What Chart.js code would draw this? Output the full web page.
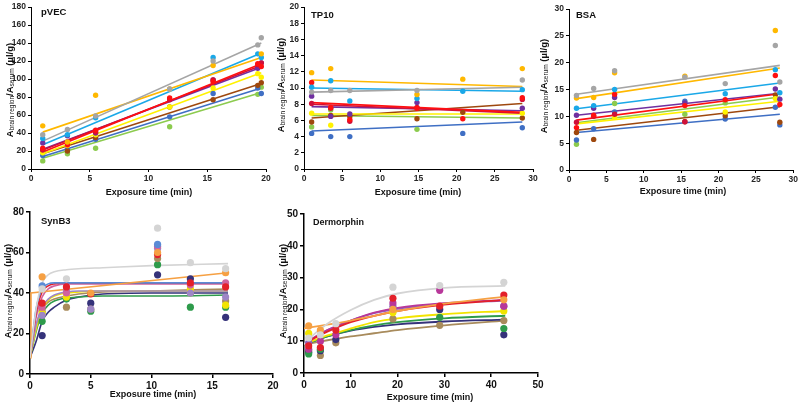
<!DOCTYPE html>
<html><head><meta charset="utf-8">
<script src="https://cdn.jsdelivr.net/npm/chart.js@4.4.1/dist/chart.umd.min.js"></script>
<style>
html,body{margin:0;padding:0;background:#fff;}
body{width:800px;height:404px;position:relative;overflow:hidden;}
canvas{position:absolute;left:0;top:0;}
</style></head><body>
<canvas id="c1" width="800" height="404"></canvas>
<canvas id="c2" width="800" height="404"></canvas>
<canvas id="c3" width="800" height="404"></canvas>
<canvas id="c4" width="800" height="404"></canvas>
<canvas id="c5" width="800" height="404"></canvas>
<script>
// ---------- DATA ----------
// Top row (linear fits), colours
const topNames  = ['grey','gold','lightblue','red','crimson','purple','yellow','brown','blue','green'];
const topColors = ['#A5A5A5','#FFB800','#1AA8E8','#FF1010','#D0103A','#7030A0','#FFF200','#9E480E','#3F6FC4','#8CCB4E'];

// pVEC
const pvecX = [1, 3.1, 5.5, 11.8, 15.5, 19.3, 19.6];
const pvecY = [
  [38, 44, 59, 89, 120, 138, 146],
  [48, 30, 82, 89, 115, null, 128],
  [34, 38, 57, null, 124, 128, 124],
  [23, 27, 43, 79, 97, 117, 114],
  [21, 30, 41, 77, 99, 116, 118],
  [29, 37, 40, null, 99, 112, 118],
  [18, 26, 38, 69, 90, 106, 102],
  [20, 20, 35, 69, 77, 93, 96],
  [15, 22, 33, 58, 84, 90, 84],
  [9, 17, 23, 47, null, 83, 91]
];
const pvecFitX = [1, 19.6];
const pvecFitStart = [31, 41, 27, 19, 21, 22, 17, 17, 14, 12];
const pvecFitEnd   = [140, 124, 129, 117, 115, 113, 107, 95, 90, 85];

// TP10
const tp10X = [1, 3.5, 6, 14.8, 20.8, 28.6];
const tp10Y = [
  [9.5, 9.7, 9.7, 9.7, null, 11.0],
  [11.9, 12.4, null, 9.2, 11.1, 12.4],
  [10.1, 10.9, 8.4, 8.7, 9.6, 9.8],
  [10.7, 7.6, 6.1, 7.5, 6.2, 8.8],
  [8.1, 7.5, 5.9, 7.6, null, 8.6],
  [9.0, 6.5, 6.8, 8.2, null, 7.5],
  [6.9, 5.4, null, null, null, 6.9],
  [5.8, 6.6, 6.5, 6.2, 7.0, 6.3],
  [4.4, 4.0, 4.0, null, 4.4, 5.1],
  [5.2, 7.3, null, 4.9, null, null]
];
const tp10FitX = [1, 28.6];
const tp10FitStart = [9.5, 11.0, 10.0, 8.2, 8.0, 7.7, 6.8, 6.3, 4.7, 6.6];
const tp10FitEnd   = [10.1, 10.2, 9.6, 7.0, 6.9, 7.2, 6.8, 8.1, 5.8, 6.3];

// BSA
const bsaX = [1, 3.3, 6.1, 15.5, 20.9, 27.6, 28.2];
const bsaY = [
  [13.9, 15.2, 18.5, 17.3, 16.1, 23.2, 16.4],
  [13.4, 13.5, 18.1, 17.5, null, 26.0, null],
  [11.5, 12.0, 15.0, null, 14.2, 18.7, 14.4],
  [7.9, 10.2, 14.1, 12.0, 13.1, 17.6, 12.2],
  [8.9, 10.0, 10.4, 9.0, null, null, null],
  [10.2, 11.5, 13.5, 12.5, null, 15.1, 13.2],
  [null, null, 9.8, null, 10.8, 13.3, null],
  [7.0, 5.7, null, 9.0, 10.1, 14.0, 8.9],
  [5.6, 7.7, 10.8, 12.8, 9.5, 11.7, 8.4],
  [4.8, null, 12.4, 10.4, 12.5, null, null]
];
const bsaFitX = [1, 28.2];
const bsaFitStart = [14.1, 13.3, 11.4, 9.3, null, 10.2, 8.6, 7.4, 7.0, 8.8];
const bsaFitEnd   = [19.5, 19.0, 16.2, 14.2, null, 14.3, 12.8, 11.8, 10.4, 13.6];

// Bottom row (non-linear fits), colours
const synNames  = ['lightgrey','orange','blue','red','pink','violet','yellow','brown','green','navy'];
const synColors = ['#D4D4D4','#F6A043','#5B8BD6','#E3202A','#D0629E','#9E86C6','#F2E400','#A88B5C','#2E9B4B','#35327A'];

// SynB3
const synX = [1, 3, 5, 10.5, 13.2, 16.1];
const synY = [
  [42, 47, null, 72, 55, 52],
  [48, null, 40, 60, null, 50],
  [43.5, null, null, 64, null, null],
  [35, 43, 39.5, 59, 45, 43],
  [33, 40, null, 63, 44, 45],
  [29, 41, 32, 62, 40, 38],
  [30, 38, null, null, 42, 34],
  [31, 33, 32, 57, 40, 36],
  [26, 37, 31, 54, 33, 33],
  [19, null, 35, 49, 47, 28]
];
const synCurveX = [0, 0.5, 1, 1.5, 2, 3, 4, 6, 10, 16.3];
const synCurves = [
  [8, 32, 45, 49, 50.5, 51.5, 52, 52.5, 53.5, 54.5],
  null,
  [8, 32, 42, 44.5, 45, 45, 45, 45, 45, 45],
  [8, 30, 40.5, 43.5, 44.5, 45, 45, 45, 45, 45],
  [8, 28, 38, 42, 43.5, 44.5, 44.5, 44.5, 44.5, 44.5],
  [8, 24, 33, 37, 39, 40.5, 41, 41, 41, 41],
  [8, 22, 32, 36.5, 38.5, 40, 40.5, 41, 41, 41],
  [8, 24, 32, 35.5, 37, 38.5, 39.5, 40.5, 41, 42],
  [8, 21, 30, 34, 36, 37.5, 38, 38.5, 38.5, 39],
  [8, 16, 26, 30.5, 33, 36.5, 38, 39.5, 40, 40]
];
const synOrangeX = [0.02, 0.08, 16.3];
const synOrangeY = [8, 40, 50];

// Dermorphin
const derNames  = ['lightgrey','orange','red','magenta','violet','yellow','green','navy','brown'];
const derColors = ['#D4D4D4','#F6A043','#E3202A','#B8379A','#8C62BE','#F2E400','#2E9B4B','#35327A','#A88B5C'];
const derX = [1, 3.5, 6.8, 19, 29, 42.7];
const derY = [
  [11, 12, 15.5, 27, 27.5, 28.5],
  [14.8, 13.5, null, 20, null, 23],
  [8.5, 8, 13.5, 23.5, 21, 24.5],
  [7.5, 10, 12, 22, 26, 21],
  [9.5, null, null, 21, null, 21],
  [12.5, null, null, 19, null, 19.5],
  [6, 7.5, null, null, 17.5, 14],
  [6.5, 7, 10.5, null, 20, 12],
  [7, 5.5, 9.5, 17, 15, 16.5]
];
const derCurveX = [0, 2, 5, 10, 15, 20, 30, 43];
const derCurves = [
  [9, 12, 15.5, 19.8, 23, 25, 26.8, 27.4],
  [14, 14.5, 15.2, 16.5, 18, 19.5, 21.8, 24],
  [9, 10.8, 13, 16, 18, 19.5, 21.5, 23],
  [9, 11, 13.5, 16.5, 19, 20.5, 22, 23],
  [9, 11, 13.5, 16.5, 18.8, 20.2, 21.8, 22.8],
  [9, 10.2, 11.8, 14, 16, 17.2, 18.5, 19.5],
  [9, 10, 11.5, 13.5, 15, 16, 17.2, 18],
  [9, 10, 11.5, 13.3, 14.5, 15.3, 16.2, 16.8],
  [9, 9.5, 10.3, 11.5, 12.5, 13.5, 15, 16.5]
];

// ---------- DRAWING ----------
const W = 800, H = 404, YW = 28, XH = 20;
const FONT = '"Liberation Sans", Arial, Helvetica, sans-serif';

function pts(xs, ys){
  const out = [];
  xs.forEach((x,i)=>{ if (ys[i] !== null && ys[i] !== undefined) out.push({x:x, y:ys[i]}); });
  return out;
}

function decoPlugin(d){
  return { id:'deco', afterDraw(chart){
    const ctx = chart.ctx;
    ctx.save();
    ctx.fillStyle = '#111';
    ctx.textBaseline = 'middle';
    ctx.textAlign = 'left';
    ctx.font = 'bold ' + d.tf + 'px ' + FONT;
    ctx.fillText(d.title, d.tx, d.ty);
    ctx.textAlign = 'center';
    ctx.font = 'bold ' + d.xf + 'px ' + FONT;
    ctx.fillText('Exposure time (min)', d.xx, d.xy);
    // y title with subscripts
    ctx.translate(d.yx, d.yy);
    ctx.rotate(-Math.PI/2);
    const main = 'bold ' + d.yf + 'px ' + FONT;
    const sub = (d.yf*0.68).toFixed(1) + 'px ' + FONT;
    const parts = [['A',main,0],['brain region',sub,2],['/A',main,0],['serum',sub,2],[' (\u00b5l/g)',main,0]];
    let total = 0;
    parts.forEach(p=>{ ctx.font = p[1]; total += ctx.measureText(p[0]).width; });
    let x = -total/2;
    ctx.textAlign = 'left';
    parts.forEach(p=>{ ctx.font = p[1]; ctx.fillText(p[0], x, p[2]); x += ctx.measureText(p[0]).width; });
    ctx.restore();
  }};
}

function makePanel(id, g, xr, yr, datasets, deco, st){
  new Chart(document.getElementById(id), {
    type:'line',
    data:{datasets:datasets},
    options:{
      responsive:false, animation:false, devicePixelRatio:1,
      layout:{autoPadding:false, padding:{left:g.l-YW, right:W-g.r, top:g.t, bottom:H-g.b-XH}},
      plugins:{legend:{display:false}, tooltip:{enabled:false}},
      elements:{line:{tension:0}},
      scales:{
        x:{type:'linear', min:xr[0], max:xr[1],
           afterFit:s=>{s.height=XH;},
           afterBuildTicks:s=>{ s.ticks = xr[3].map(v=>({value:v})); },
           ticks:{font:{family:FONT, size:st.fs, weight:'bold'}, color:st.tc, padding:st.tp, maxRotation:0, autoSkip:false},
           grid:{drawOnChartArea:false, tickLength:st.tl, color:'#000', lineWidth:st.lw},
           border:{display:true, color:'#000', width:st.lw}},
        y:{type:'linear', min:yr[0], max:yr[1],
           afterFit:s=>{s.width=YW;},
           afterBuildTicks:s=>{ s.ticks = yr[3].map(v=>({value:v})); },
           ticks:{font:{family:FONT, size:st.fs, weight:'bold'}, color:st.tc, padding:st.tp, autoSkip:false},
           grid:{drawOnChartArea:false, tickLength:st.tl, color:'#000', lineWidth:st.lw},
           border:{display:true, color:'#000', width:st.lw}}
      }
    },
    plugins:[decoPlugin(deco)]
  });
}

function range(a,b,s){ const r=[]; for(let v=a; v<=b+1e-9; v+=s) r.push(+v.toFixed(6)); return r; }

function topSets(xs, ys, fitX, fs, fe){
  const sets = [];
  ys.forEach((row,i)=>{
    sets.push({data:pts(xs,row), showLine:false, pointRadius:2.7, pointHoverRadius:0,
      pointBackgroundColor:topColors[i], pointBorderWidth:0, borderColor:topColors[i]});
  });
  ys.forEach((row,i)=>{
    if (fs[i] === null) return;
    sets.push({data:[{x:fitX[0], y:fs[i]},{x:fitX[1], y:fe[i]}], pointRadius:0,
      borderColor:topColors[i], borderWidth:1.6, fill:false});
  });
  return sets;
}

const topStyle = {fs:8.5, tc:'#262626', tp:2, tl:3, lw:1};
const botStyle = {fs:10, tc:'#111', tp:2, tl:4, lw:1.5};

// Panel 1: pVEC
makePanel('c1', {l:31, r:266, t:4, b:169}, [0,20,5,range(0,20,5)], [0,180,20,range(0,180,20)],
  topSets(pvecX, pvecY, pvecFitX, pvecFitStart, pvecFitEnd),
  {title:'pVEC', tf:9.5, tx:41, ty:12, xf:9, xx:149, xy:193, yf:9.5, yx:10, yy:90}, topStyle);

// Panel 2: TP10
makePanel('c2', {l:304, r:533, t:7, b:169}, [0,30,5,range(0,30,5)], [0,20,2,range(0,20,2)],
  topSets(tp10X, tp10Y, tp10FitX, tp10FitStart, tp10FitEnd),
  {title:'TP10', tf:9.5, tx:311, ty:15, xf:9, xx:418, xy:193, yf:9.5, yx:281, yy:85}, topStyle);

// Panel 3: BSA
makePanel('c3', {l:569, r:795, t:9, b:170}, [0,30,5,range(0,30,5)], [0,30,5,range(0,30,5)],
  topSets(bsaX, bsaY, bsaFitX, bsaFitStart, bsaFitEnd),
  {title:'BSA', tf:9.5, tx:576, ty:15, xf:9, xx:683, xy:192, yf:9.5, yx:544, yy:86}, topStyle);

// Panel 4: SynB3
(function(){
  const sets = [];
  synY.forEach((row,i)=>{
    sets.push({data:pts(synX,row), showLine:false, pointRadius:3.6, pointHoverRadius:0,
      pointBackgroundColor:synColors[i], pointBorderWidth:0, borderColor:synColors[i]});
  });
  synCurves.forEach((c,i)=>{
    if (c === null) {
      sets.push({data:pts(synOrangeX, synOrangeY), pointRadius:0, borderColor:synColors[i], borderWidth:1.6, fill:false});
    } else {
      sets.push({data:pts(synCurveX, c), pointRadius:0, borderColor:synColors[i], borderWidth:1.6, fill:false, cubicInterpolationMode:'monotone'});
    }
  });
  makePanel('c4', {l:30, r:273, t:212, b:374}, [0,20,5,range(0,20,5)], [0,80,20,range(0,80,20)], sets,
    {title:'SynB3', tf:9.5, tx:41, ty:221, xf:9, xx:153, xy:395, yf:9.5, yx:8, yy:291}, botStyle);
})();

// Panel 5: Dermorphin
(function(){
  const sets = [];
  derY.forEach((row,i)=>{
    sets.push({data:pts(derX,row), showLine:false, pointRadius:3.6, pointHoverRadius:0,
      pointBackgroundColor:derColors[i], pointBorderWidth:0, borderColor:derColors[i]});
  });
  derCurves.forEach((c,i)=>{
    sets.push({data:pts(derCurveX, c), pointRadius:0, borderColor:derColors[i], borderWidth:1.8, fill:false, cubicInterpolationMode:'monotone'});
  });
  makePanel('c5', {l:304, r:538, t:214, b:373}, [0,50,10,range(0,50,10)], [0,50,10,range(0,50,10)], sets,
    {title:'Dermorphin', tf:9, tx:313, ty:223, xf:9, xx:430, xy:398, yf:9.5, yx:283, yy:291}, botStyle);
})();
</script>
</body></html>
